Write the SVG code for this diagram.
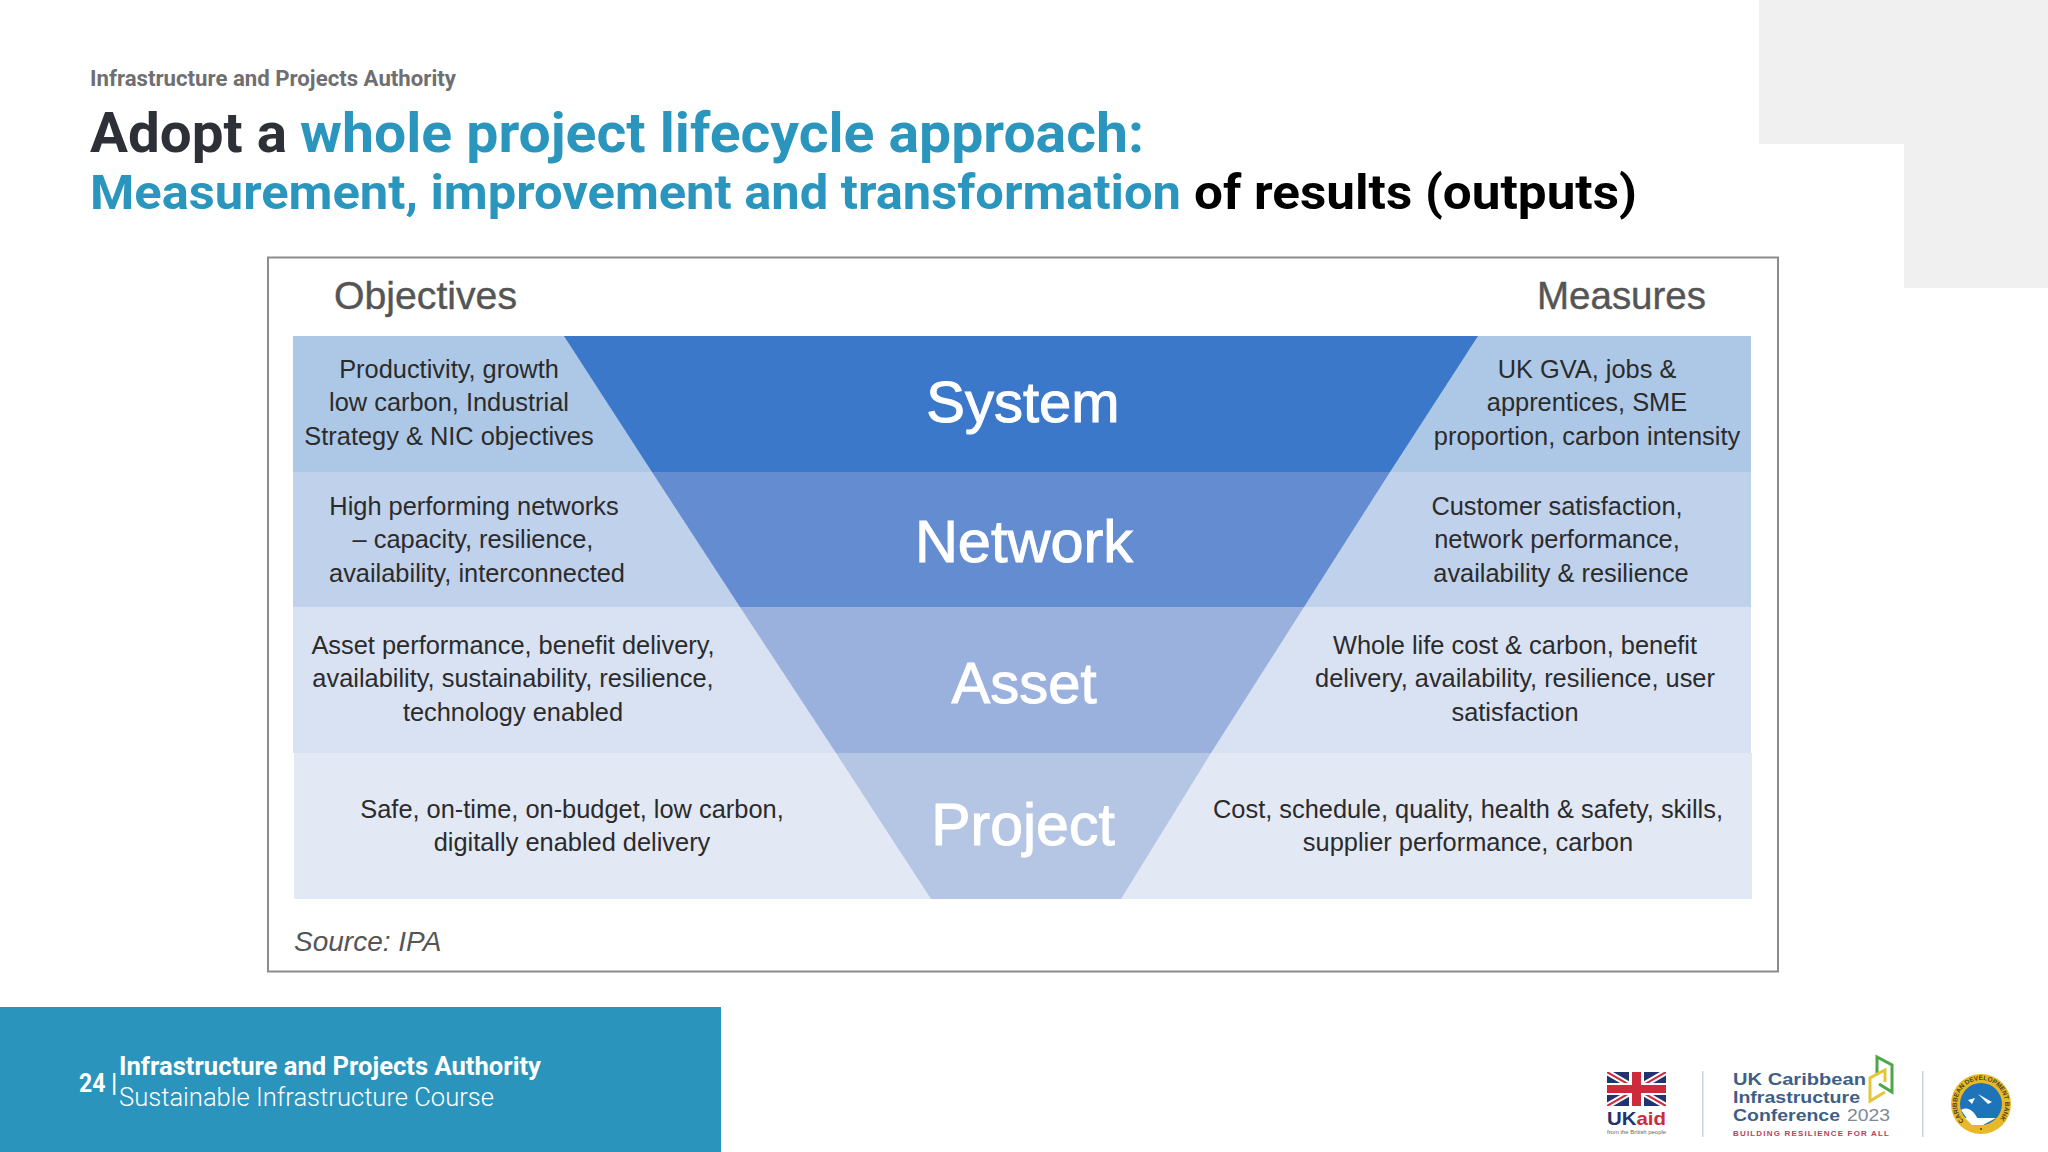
<svg xmlns="http://www.w3.org/2000/svg" width="2048" height="1152" viewBox="0 0 2048 1152">
<style>
.h{font-family:Roboto,"Liberation Sans",sans-serif;font-weight:700}
.b{font-family:"Liberation Sans",Arial,sans-serif;font-size:25.400px;fill:#2b2b2b;text-anchor:middle}
.c{font-family:"Liberation Sans",Arial,sans-serif;font-size:58px;fill:#fff;text-anchor:middle;stroke:#fff;stroke-width:1}
.t{fill:#2a95bd}
.logo{font-family:"Liberation Sans",Arial,sans-serif;font-weight:700}
</style>
<defs><clipPath id="fl"><rect x="1607" y="1072" width="59" height="34"/></clipPath>
<path id="ring" d="M1964 1121A24 24 0 1 1 1998 1121"/></defs>
<rect width="2048" height="1152" fill="#fff"/>
<g id="corner"><rect x="1759" y="0" width="289" height="144" fill="#f0f0f0"/><rect x="1904" y="144" width="144" height="144" fill="#f0f0f0"/></g>
<g id="heading">
<text class="h" x="90" y="86" font-size="22" fill="#6f6f72" textLength="366" lengthAdjust="spacingAndGlyphs">Infrastructure and Projects Authority</text>
<text class="h" x="90" y="152" font-size="56" fill="#2e3038" textLength="197" lengthAdjust="spacingAndGlyphs">Adopt a</text>
<text class="h t" x="300" y="152" font-size="56" textLength="844" lengthAdjust="spacingAndGlyphs">whole project lifecycle approach:</text>
<text class="h t" x="90" y="209" font-size="48" textLength="1091" lengthAdjust="spacingAndGlyphs">Measurement, improvement and transformation</text>
<text class="h" x="1194" y="209" font-size="48" fill="#000" textLength="443" lengthAdjust="spacingAndGlyphs">of results (outputs)</text>
</g>
<g id="frame"><rect x="268" y="257.500" width="1510" height="714" fill="#fff" stroke="#8c8c8c" stroke-width="2"/>
<text x="334" y="309" font-family="Liberation Sans,sans-serif" font-size="39" fill="#555" stroke="#555" stroke-width=".4" textLength="183" lengthAdjust="spacingAndGlyphs">Objectives</text>
<text x="1537" y="309" font-family="Liberation Sans,sans-serif" font-size="38" fill="#555" stroke="#555" stroke-width=".4" textLength="169" lengthAdjust="spacingAndGlyphs">Measures</text>
<text x="294" y="951" font-family="Liberation Sans,sans-serif" font-size="28" font-style="italic" fill="#555">Source: IPA</text></g>
<g id="bands">
<rect x="293" y="336" width="1458" height="136" fill="#adc8e7"/>
<rect x="293" y="472" width="1458" height="135" fill="#c0d1eb"/>
<rect x="293" y="607" width="1458" height="146" fill="#d9e2f3"/>
<rect x="294" y="753" width="1458" height="146" fill="#e3e8f5"/>
</g>
<g id="system"><polygon points="564,336 1478,336 1390,472 652,472" fill="#3b78c9"/><text class="c" x="1023" y="422">System</text></g>
<g id="network"><polygon points="652,472 1390,472 1304,607 740,607" fill="#638cd1"/><text class="c" x="1024" y="562" style="font-size:59.500px">Network</text></g>
<g id="asset"><polygon points="740,607 1304,607 1211,753 836,753" fill="#9bb1dd"/><text class="c" x="1024" y="703">Asset</text></g>
<g id="project"><polygon points="836,753 1211,753 1121,899 931,899" fill="#b5c6e4"/><text class="c" x="1023" y="845" style="font-size:59px">Project</text></g>
<g id="objectives">
<text class="b" x="449" y="378">Productivity, growth</text><text class="b" x="449" y="411">low carbon, Industrial</text><text class="b" x="449" y="445">Strategy &amp; NIC objectives</text>
<text class="b" x="474" y="515">High performing networks</text><text class="b" x="473" y="548">– capacity, resilience,</text><text class="b" x="477" y="582">availability, interconnected</text>
<text class="b" x="513" y="654">Asset performance, benefit delivery,</text><text class="b" x="513" y="687">availability, sustainability, resilience,</text><text class="b" x="513" y="721">technology enabled</text>
<text class="b" x="572" y="818">Safe, on-time, on-budget, low carbon,</text><text class="b" x="572" y="851">digitally enabled delivery</text>
</g>
<g id="measures">
<text class="b" x="1587" y="378">UK GVA, jobs &amp;</text><text class="b" x="1587" y="411">apprentices, SME</text><text class="b" x="1587" y="445">proportion, carbon intensity</text>
<text class="b" x="1557" y="515">Customer satisfaction,</text><text class="b" x="1557" y="548">network performance,</text><text class="b" x="1561" y="582">availability &amp; resilience</text>
<text class="b" x="1515" y="654">Whole life cost &amp; carbon, benefit</text><text class="b" x="1515" y="687">delivery, availability, resilience, user</text><text class="b" x="1515" y="721">satisfaction</text>
<text class="b" x="1468" y="818">Cost, schedule, quality, health &amp; safety, skills,</text><text class="b" x="1468" y="851">supplier performance, carbon</text>
</g>
<g id="footer"><rect x="0" y="1007" width="721" height="145" fill="#2b94bc"/>
<text class="h" x="79" y="1092" font-size="25" fill="#fff" textLength="38" lengthAdjust="spacingAndGlyphs">24 |</text>
<text class="h" x="119" y="1075" font-size="25" fill="#fff" textLength="422" lengthAdjust="spacingAndGlyphs">Infrastructure and Projects Authority</text>
<text x="119" y="1106" font-family="Roboto,sans-serif" font-weight="300" font-size="25" fill="#fff" textLength="375" lengthAdjust="spacingAndGlyphs">Sustainable Infrastructure Course</text></g>
<g id="ukaid"><g clip-path="url(#fl)"><rect x="1607" y="1072" width="59" height="34" fill="#23336f"/>
<path d="M1607 1072L1666 1106M1666 1072L1607 1106" stroke="#fff" stroke-width="6"/><path d="M1607 1072L1666 1106M1666 1072L1607 1106" stroke="#cf2a3c" stroke-width="2"/>
<rect x="1607" y="1083" width="59" height="12" fill="#fff"/><rect x="1629" y="1072" width="15" height="34" fill="#fff"/>
<rect x="1607" y="1085" width="59" height="8" fill="#cf2a3c"/><rect x="1632" y="1072" width="9" height="34" fill="#cf2a3c"/></g>
<text class="logo" x="1607" y="1125" font-size="19" fill="#23336f" textLength="59" lengthAdjust="spacingAndGlyphs">UK<tspan fill="#cf2a3c">aid</tspan></text>
<text x="1607" y="1134" font-family="Liberation Sans,sans-serif" font-size="6" fill="#666" textLength="59" lengthAdjust="spacingAndGlyphs">from the British people</text></g>
<g id="dividers"><rect x="1702" y="1071" width="1.500" height="66" fill="#c5d6da"/><rect x="1922" y="1071" width="1.500" height="66" fill="#c5d6da"/></g>
<g id="conference">
<text class="logo" x="1733" y="1085" font-size="17" fill="#3d5f87" textLength="133" lengthAdjust="spacingAndGlyphs">UK Caribbean</text>
<text class="logo" x="1733" y="1103" font-size="17" fill="#3d5f87" textLength="127" lengthAdjust="spacingAndGlyphs">Infrastructure</text>
<text class="logo" x="1733" y="1121" font-size="17" fill="#3d5f87" textLength="107" lengthAdjust="spacingAndGlyphs">Conference</text>
<text x="1847" y="1121" font-family="Liberation Sans,sans-serif" font-size="17" fill="#7d8a96" textLength="43" lengthAdjust="spacingAndGlyphs">2023</text>
<text class="logo" x="1733" y="1136" font-size="8" fill="#c8395a" textLength="156" lengthAdjust="spacing">BUILDING RESILIENCE FOR ALL</text>
<path d="M1877 1074V1057L1892 1065V1092L1879 1084" fill="none" stroke="#4ea64a" stroke-width="3"/>
<path d="M1885 1082V1070L1870 1078V1101L1885 1092" fill="none" stroke="#e4c63a" stroke-width="3"/>
</g>
<g id="cdb"><circle cx="1981" cy="1104" r="30" fill="#e7b928"/><circle cx="1981" cy="1104" r="21" fill="#1d74b8"/>
<path d="M1961 1110Q1972 1104 1980 1124L1968 1120ZM1978 1094L1992 1102L1988 1104ZM1968 1100L1975 1098L1972 1104ZM1965 1118H1996L1983 1125H1972Z" fill="#fff"/>
<circle cx="1981" cy="1129" r="1" fill="#4a3d10"/>
<text class="logo" font-size="6.500" fill="#4a4320"><textPath href="#ring" textLength="110" lengthAdjust="spacing">CARIBBEAN DEVELOPMENT BANK</textPath></text></g>
</svg>
